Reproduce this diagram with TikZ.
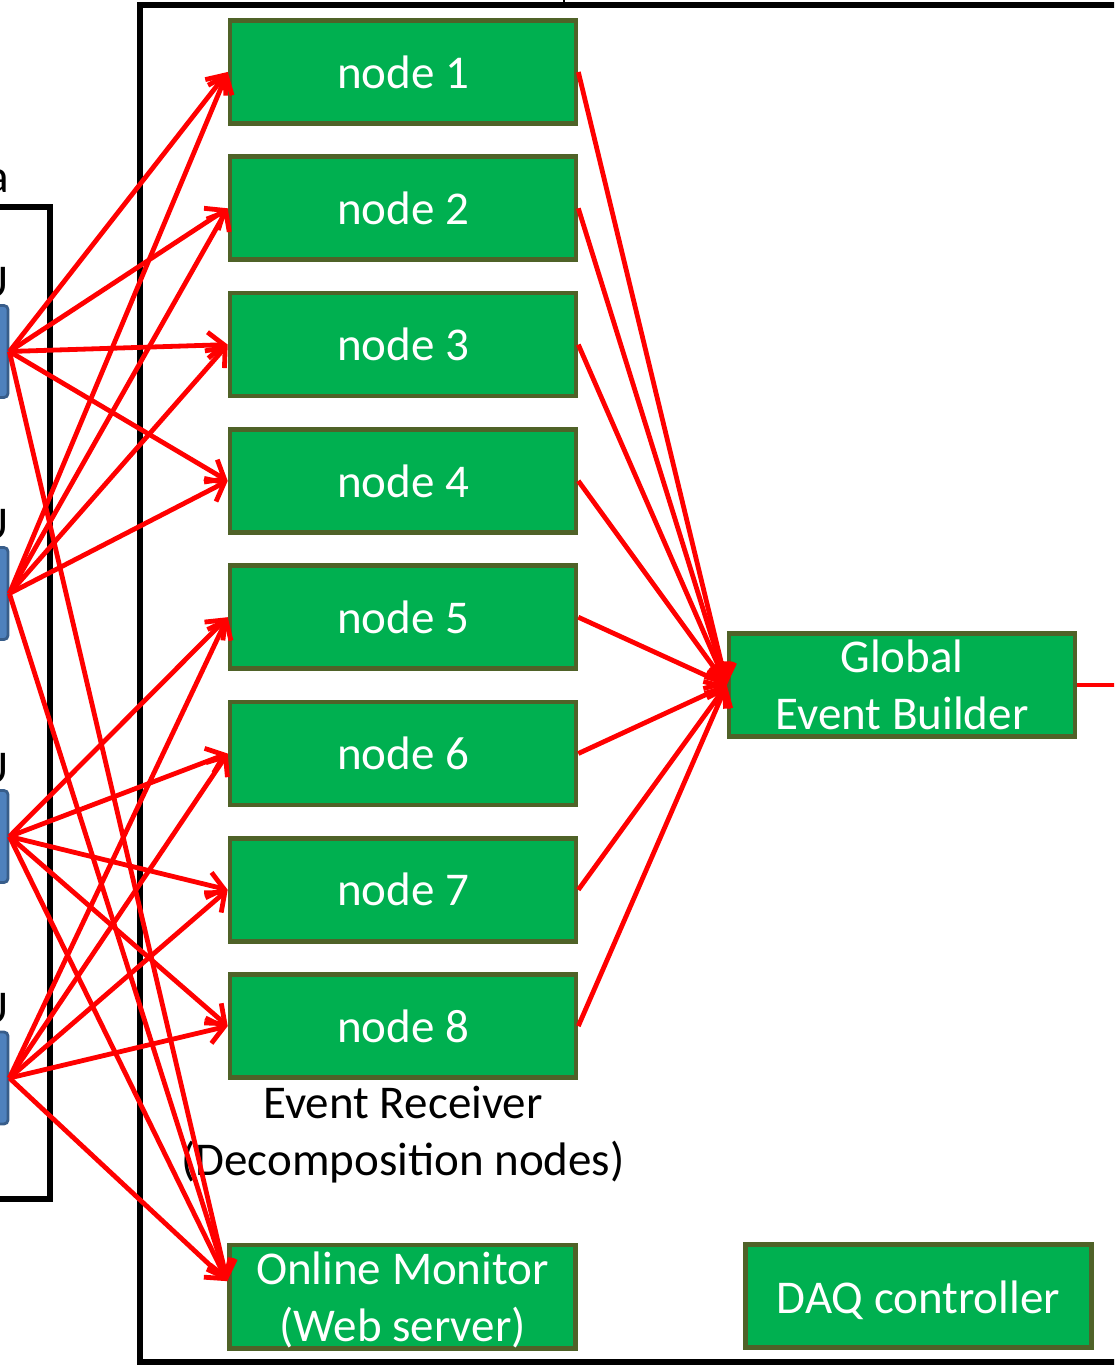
\documentclass[tikz,border=0pt]{standalone}
\usepackage{fontspec}
\setmainfont{Carlito}
\usetikzlibrary{arrows.meta}
\definecolor{boxgreen}{HTML}{00B050}
\definecolor{olivedge}{HTML}{4F6228}
\definecolor{srcblue}{HTML}{4F81BD}
\definecolor{srcedge}{HTML}{385D8A}
\begin{document}
\begin{tikzpicture}[x=0.5pt,y=-0.5pt,
  box/.style={draw=olivedge, fill=boxgreen, line width=2.3pt, text=white, minimum width=173pt, minimum height=51.5pt, inner sep=0pt, font=\fontsize{23.5}{28.5}\selectfont, align=center},
  src/.style={draw=srcedge, fill=srcblue, line width=1.4pt, rounded corners=2pt, minimum width=10pt, minimum height=46pt, inner sep=0pt},
  link/.style={draw=red, line width=2.4pt, -{Straight Barb[length=8pt,width=13pt,line width=2.4pt]}},
  plainlink/.style={draw=red, line width=2.4pt},
  frame/.style={draw=black, line width=2.6pt},
  lbl/.style={font=\fontsize{23.5}{28.5}\selectfont, inner sep=0pt}]
\useasboundingbox (0,0) rectangle (1114,1369);
\clip (0,0) rectangle (1114,1369);
% frames
\draw[frame] (140,5) rectangle (1140,1362);
\draw[frame] (-20,207) -- (50,207) -- (50,1199) -- (-20,1199);
\draw[line width=1pt] (564,0) -- (564,3);
% cut labels on the left
\node[lbl, anchor=base east] (la) at (9,193) {a};
\node[lbl, anchor=base east] (lu1) at (9,298) {U};
\node[lbl, anchor=base east] (lu2) at (9,539) {U};
\node[lbl, anchor=base east] (lu3) at (9,783) {U};
\node[lbl, anchor=base east] (lu4) at (9,1023) {U};
% sources
\node[src] (s1) at (-2,351.5) {};
\node[src] (s2) at (-2,593.5) {};
\node[src] (s3) at (-2,836.5) {};
\node[src] (s4) at (-2,1078) {};
% decomposition nodes
\foreach \i in {1,...,8}
  \node[box] (n\i) at (403,{72+136.3*(\i-1)}) {node \i};
\node[box] (GEB) at (902,685) {Global\\Event Builder};
\node[box] (OM) at (402.5,1296.5) {\strut Online Monitor\\(Web server)};
\node[box, text height=20pt, text depth=3pt] (DAQ) at (918.5,1296) {DAQ controller};
\node[lbl, align=center] (er) at (403,1135) {Event Receiver\\(Decomposition nodes)};
\coordinate (out) at (1130,685);
% connectors
\foreach \s in {1,2}
  \foreach \n in {1,...,4}
    \draw[link] (s\s.east) -- (n\n.west);
\foreach \s in {3,4}
  \foreach \n in {5,...,8}
    \draw[link] (s\s.east) -- (n\n.west);
\foreach \s in {1,...,4}
  \draw[link] (s\s.east) -- (OM.175);
\foreach \n in {1,...,8}
  \draw[link] (n\n.east) -- (GEB.west);
\draw[plainlink] (GEB.east) -- (out);
\end{tikzpicture}
\end{document}
